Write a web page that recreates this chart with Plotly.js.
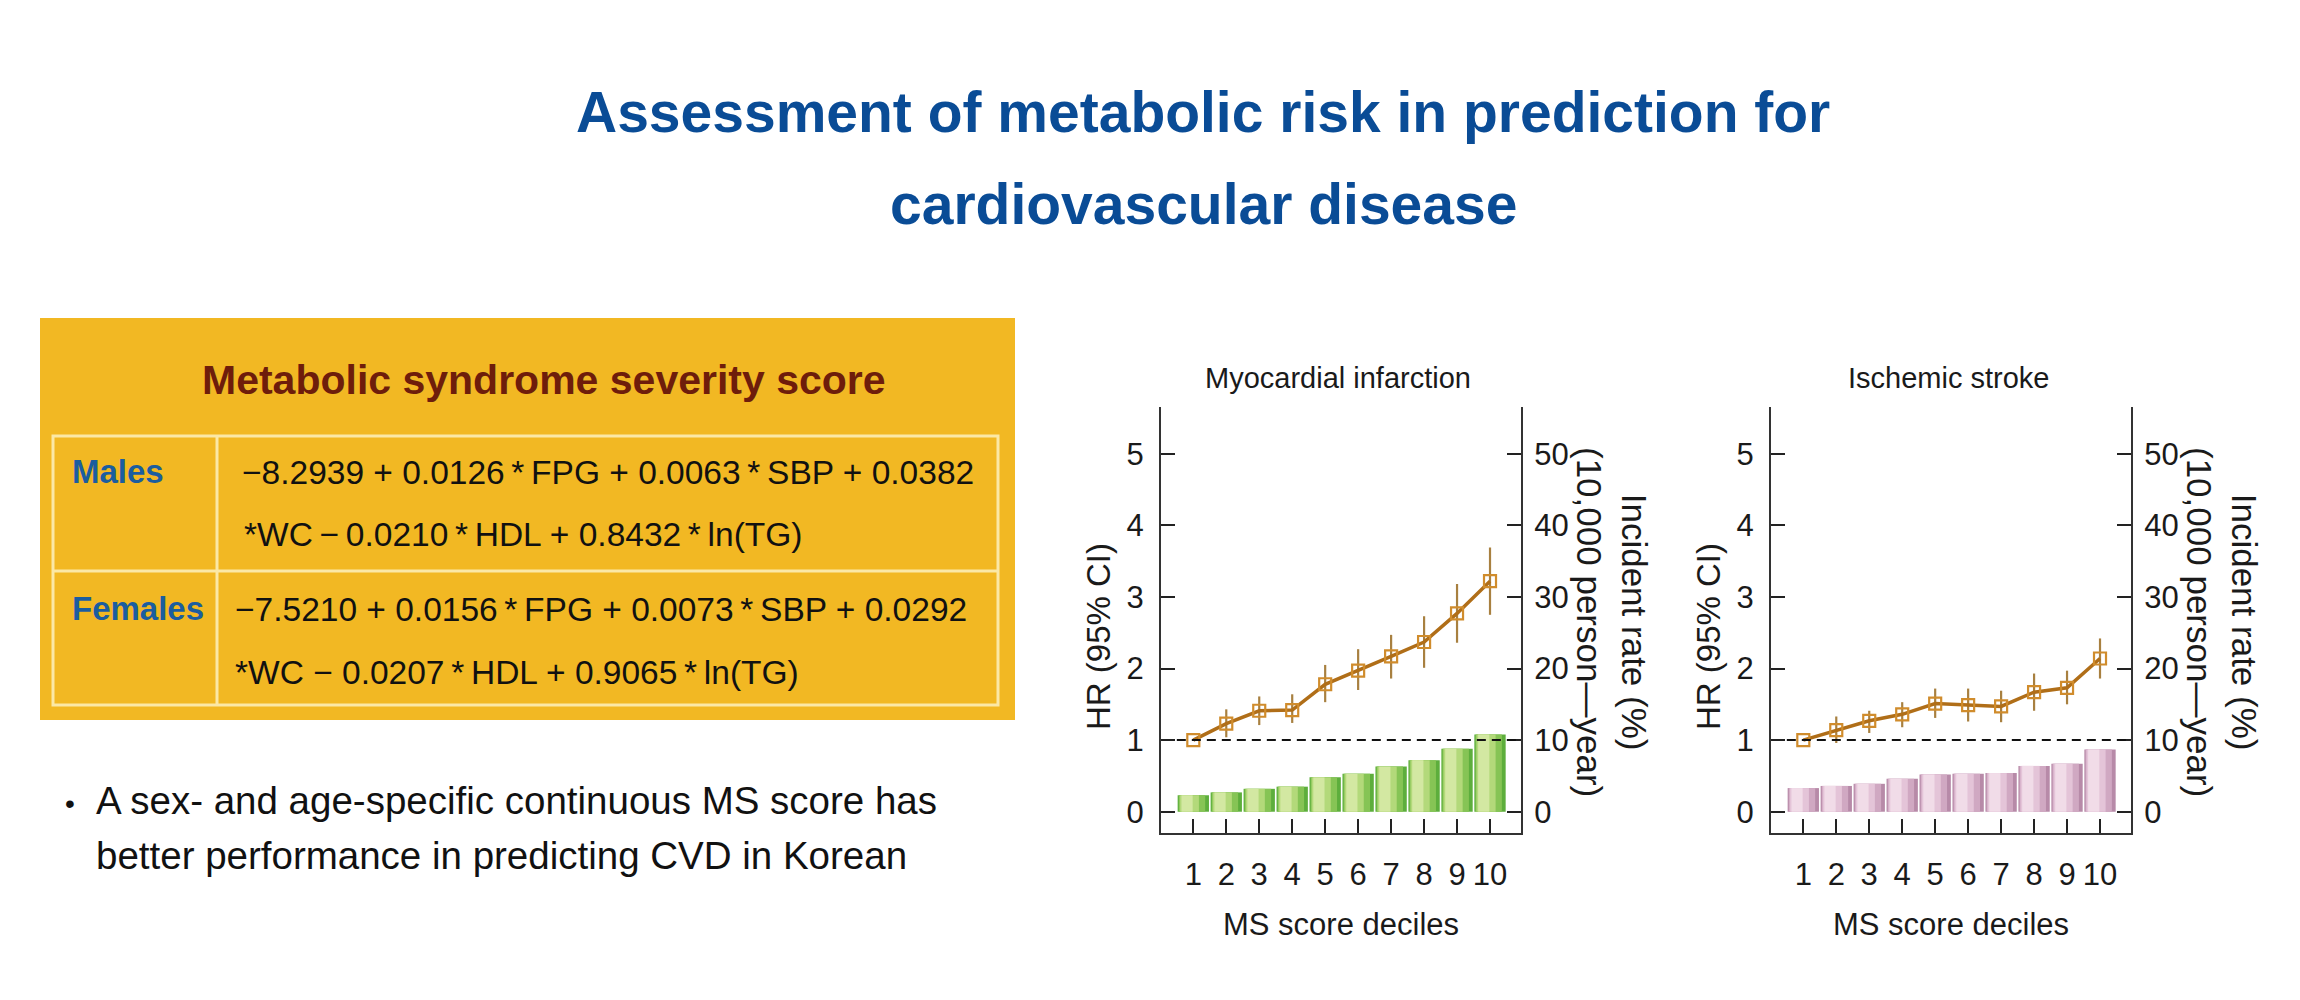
<!DOCTYPE html>
<html>
<head>
<meta charset="utf-8">
<script src="https://cdn.plot.ly/plotly-3.0.1.min.js"></script>
<style>html,body{margin:0;padding:0;background:#fff;}#chart{width:2300px;height:1000px;}</style>
</head>
<body>
<div id="chart"></div>
<script>
// ---------- data ----------
const deciles = [1, 2, 3, 4, 5, 6, 7, 8, 9, 10];
const decileLabels = ['1', '2', '3', '4', '5', '6', '7', '8', '9', '10'];
const hrTicks = [0, 1, 2, 3, 4, 5];
const rateTicks = [0, 10, 20, 30, 40, 50];

// Myocardial infarction
const miHR   = [1.00, 1.23, 1.41, 1.42, 1.78, 1.97, 2.17, 2.37, 2.77, 3.22];
const miLo   = [1.00, 1.04, 1.21, 1.24, 1.53, 1.70, 1.86, 2.01, 2.36, 2.75];
const miHi   = [1.00, 1.43, 1.61, 1.64, 2.05, 2.27, 2.47, 2.73, 3.18, 3.69];
const miRate = [2.3, 2.7, 3.2, 3.5, 4.8, 5.3, 6.3, 7.2, 8.8, 10.8];

// Ischemic stroke
const isHR   = [1.00, 1.14, 1.27, 1.36, 1.51, 1.49, 1.47, 1.67, 1.73, 2.14];
const isLo   = [1.00, 0.96, 1.10, 1.18, 1.31, 1.26, 1.25, 1.41, 1.50, 1.86];
const isHi   = [1.00, 1.33, 1.41, 1.53, 1.72, 1.72, 1.69, 1.93, 1.97, 2.42];
const isRate = [3.3, 3.6, 3.9, 4.6, 5.2, 5.3, 5.4, 6.4, 6.7, 8.7];

const panelTitles = ['Myocardial infarction', 'Ischemic stroke'];
const hrTitle = 'HR (95% CI)';
const xTitle = 'MS score deciles';
const rateTitle = 'Incident rate (%)<br>(10,000 person\u2014year)';
const mainTitle = ['Assessment of metabolic risk in prediction for', 'cardiovascular disease'];
const boxTitle = 'Metabolic syndrome severity score';
const sexLabels = ['Males', 'Females'];
const formulas = [
  ['\u22128.2939 + 0.0126\u2009*\u2009FPG + 0.0063\u2009*\u2009SBP + 0.0382', '*WC\u2009\u2212\u20090.0210\u2009*\u2009HDL + 0.8432\u2009*\u2009ln(TG)'],
  ['\u22127.5210 + 0.0156\u2009*\u2009FPG + 0.0073\u2009*\u2009SBP + 0.0292', '*WC \u2212 0.0207\u2009*\u2009HDL + 0.9065\u2009*\u2009ln(TG)']
];
const bulletLines = ['A sex- and age-specific continuous MS score has', 'better performance in predicting CVD in Korean'];

// ---------- helpers / styles ----------
const W = 2300, H = 1000;
const px = x => x / W;
const py = y => 1 - y / H;
const FN = 'Liberation Sans, Arial, sans-serif';
const INK = '#1a1a1a';

const greenLayers = [
  {w: 0.95, o: -0.475, c: '#5DAE3C'},
  {w: 0.80, o: -0.44, c: '#86C455'},
  {w: 0.58, o: -0.41, c: '#B3D97A'},
  {w: 0.34, o: -0.36, c: '#D3E8A2'}
];
const pinkLayers = [
  {w: 0.95, o: -0.475, c: '#B78AA8'},
  {w: 0.80, o: -0.44, c: '#D0A8C2'},
  {w: 0.58, o: -0.41, c: '#E4C4D8'},
  {w: 0.34, o: -0.36, c: '#F1DCE8'}
];

function barTraces(rates, layers, xa, ya) {
  return layers.map(L => ({
    type: 'bar', x: deciles, y: rates, xaxis: xa, yaxis: ya,
    width: L.w, offset: L.o, marker: {color: L.c, line: {width: 0}},
    hoverinfo: 'skip'
  }));
}
function hrTrace(hr, lo, hi, xa, ya) {
  return {
    type: 'scatter', mode: 'lines+markers', x: deciles, y: hr, xaxis: xa, yaxis: ya,
    line: {color: '#B06E18', width: 3.5},
    marker: {symbol: 'square-open', size: 12, color: '#D08C2C', line: {width: 2.2}},
    error_y: {type: 'data', symmetric: false,
      array: hi.map((v, i) => v - hr[i]), arrayminus: hr.map((v, i) => v - lo[i]),
      color: '#A88040', thickness: 2.2, width: 0}
  };
}

const data = [
  ...barTraces(miRate, greenLayers, 'x', 'y2'),
  hrTrace(miHR, miLo, miHi, 'x', 'y'),
  ...barTraces(isRate, pinkLayers, 'x2', 'y4'),
  hrTrace(isHR, isLo, isHi, 'x2', 'y3')
];

const yDom = [py(833), py(407)];
const hrRange = [-0.297, 5.652];
const rateRange = [-2.97, 56.52];
const tickCommon = {ticks: 'inside', ticklen: 14, tickwidth: 2, tickcolor: '#222',
  showline: true, linecolor: '#333', linewidth: 2, showgrid: false, zeroline: false};

function xAxis(dom, yName) {
  return Object.assign({}, tickCommon, {
    domain: dom, range: [0.02, 10.94], anchor: yName,
    tickmode: 'array', tickvals: deciles, ticktext: decileLabels,
    tickfont: {family: FN, size: 31, color: INK}, ticklabelstandoff: 13,
    title: {text: xTitle, font: {family: FN, size: 31, color: INK}, standoff: 22}
  });
}
function hrAxis(xName) {
  return Object.assign({}, tickCommon, {
    domain: yDom, range: hrRange, anchor: xName,
    tickmode: 'array', tickvals: hrTicks, ticktext: hrTicks.map(String),
    tickfont: {family: FN, size: 31, color: INK}, ticklabelstandoff: 9
  });
}
function rateAxis(xName, over) {
  return Object.assign({}, tickCommon, {
    domain: yDom, range: rateRange, anchor: xName, overlaying: over, side: 'right',
    tickmode: 'array', tickvals: rateTicks, ticktext: rateTicks.map(String),
    tickfont: {family: FN, size: 31, color: INK}, ticklabelstandoff: 5
  });
}

const mi = [1161, 1521], is = [1771, 2131];

const shapes = [
  // yellow panel
  {type: 'rect', xref: 'paper', yref: 'paper', x0: px(40), x1: px(1015), y0: py(720), y1: py(318),
   fillcolor: '#F2B823', line: {width: 0}, layer: 'below'},
  {type: 'rect', xref: 'paper', yref: 'paper', x0: px(53), x1: px(998), y0: py(705), y1: py(436),
   fillcolor: 'rgba(0,0,0,0)', line: {color: '#FBE8A6', width: 3}},
  {type: 'line', xref: 'paper', yref: 'paper', x0: px(217), x1: px(217), y0: py(705), y1: py(436),
   line: {color: '#FBE8A6', width: 3}},
  {type: 'line', xref: 'paper', yref: 'paper', x0: px(53), x1: px(998), y0: py(571), y1: py(571),
   line: {color: '#FBE8A6', width: 3}},
  // reference lines HR = 1
  {type: 'line', xref: 'x', yref: 'y', x0: 0.5, x1: 10.94, y0: 1, y1: 1,
   line: {color: '#111', width: 2, dash: '9px,6px'}, layer: 'above'},
  {type: 'line', xref: 'x2', yref: 'y3', x0: 0.5, x1: 10.94, y0: 1, y1: 1,
   line: {color: '#111', width: 2, dash: '9px,6px'}, layer: 'above'}
];

function ann(text, x, y, opts) {
  return Object.assign({text: text, xref: 'paper', yref: 'paper', x: px(x), y: py(y),
    showarrow: false, xanchor: 'center', yanchor: 'middle'}, opts);
}

const annotations = [
  ann(mainTitle[0], 1203, 112, {font: {family: FN, size: 57, color: '#0A4C96', weight: 'bold'}}),
  ann(mainTitle[1], 1203, 204, {font: {family: FN, size: 57, color: '#0A4C96', weight: 'bold'}}),
  ann(boxTitle, 544, 380, {font: {family: FN, size: 41, color: '#6E1D0B', weight: 'bold'}}),
  ann(sexLabels[0], 70, 471, {xanchor: 'left', font: {family: FN, size: 33, color: '#1B5D9F', weight: 'bold'}}),
  ann(sexLabels[1], 70, 608, {xanchor: 'left', font: {family: FN, size: 33, color: '#1B5D9F', weight: 'bold'}}),
  ann(formulas[0][0], 240, 472, {xanchor: 'left', font: {family: FN, size: 33.5, color: '#111'}}),
  ann(formulas[0][1], 242, 534, {xanchor: 'left', font: {family: FN, size: 33.5, color: '#111'}}),
  ann(formulas[1][0], 233, 609, {xanchor: 'left', font: {family: FN, size: 33.5, color: '#111'}}),
  ann(formulas[1][1], 233, 672, {xanchor: 'left', font: {family: FN, size: 33.5, color: '#111'}}),
  ann('\u2022', 70, 803, {font: {family: FN, size: 28, color: '#111'}}),
  ann(bulletLines[0], 94, 800, {xanchor: 'left', font: {family: FN, size: 38.5, color: '#111'}}),
  ann(bulletLines[1], 94, 855, {xanchor: 'left', font: {family: FN, size: 38.5, color: '#111'}}),
  ann(panelTitles[0], (mi[0] + mi[1]) / 2 - 3, 378, {font: {family: FN, size: 29, color: INK}}),
  ann(panelTitles[1], (is[0] + is[1]) / 2 - 3, 378, {font: {family: FN, size: 29, color: INK}}),
  ann(hrTitle, mi[0] - 63, 637, {textangle: -90, font: {family: FN, size: 33, color: INK}}),
  ann(hrTitle, is[0] - 63, 637, {textangle: -90, font: {family: FN, size: 33, color: INK}}),
  ann(rateTitle, mi[1] + 91, 622, {textangle: 90, font: {family: FN, size: 35, color: INK}}),
  ann(rateTitle, is[1] + 91, 622, {textangle: 90, font: {family: FN, size: 35, color: INK}})
];

const layout = {
  width: W, height: H, margin: {l: 0, r: 0, t: 0, b: 0},
  paper_bgcolor: '#ffffff', plot_bgcolor: 'rgba(0,0,0,0)',
  showlegend: false, barmode: 'overlay',
  xaxis: xAxis([px(mi[0]), px(mi[1])], 'y'),
  yaxis: hrAxis('x'),
  yaxis2: rateAxis('x', 'y'),
  xaxis2: xAxis([px(is[0]), px(is[1])], 'y3'),
  yaxis3: hrAxis('x2'),
  yaxis4: rateAxis('x2', 'y3'),
  shapes: shapes,
  annotations: annotations
};

Plotly.newPlot('chart', data, layout, {staticPlot: true, displayModeBar: false});
</script>
</body>
</html>
